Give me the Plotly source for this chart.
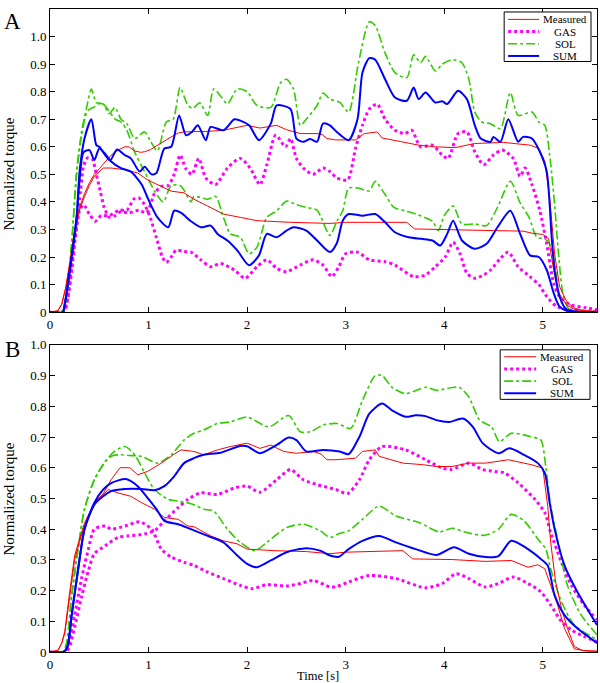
import plotly.graph_objects as go

# ---------------- Panel A data (time [s], normalized torque) ----------------
A_MEAS_HI_T = [0, 0.08, 0.12, 0.16, 0.2, 0.25, 0.3, 0.35, 0.4, 0.45, 0.5, 0.55, 0.62, 0.7, 0.76, 0.8, 0.86, 0.92, 0.96, 1.02, 1.09, 1.16, 1.23, 1.3, 1.36, 1.46, 1.6, 1.76, 1.9, 2.0, 2.13, 2.3, 2.4, 2.54, 2.71, 2.76, 2.81, 2.9, 3.1, 3.19, 3.32, 3.37, 3.57, 3.74, 3.91, 4.11, 4.31, 4.6, 4.87, 4.96, 5.02, 5.07, 5.12, 5.17, 5.24, 5.31, 5.4, 5.55]
A_MEAS_HI_V = [0, 0.005, 0.03, 0.09, 0.17, 0.29, 0.38, 0.43, 0.47, 0.5, 0.52, 0.54, 0.57, 0.59, 0.6, 0.6, 0.585, 0.58, 0.582, 0.59, 0.606, 0.62, 0.636, 0.65, 0.654, 0.655, 0.656, 0.66, 0.67, 0.678, 0.668, 0.678, 0.662, 0.648, 0.648, 0.645, 0.63, 0.625, 0.625, 0.648, 0.654, 0.632, 0.618, 0.606, 0.6, 0.597, 0.612, 0.616, 0.606, 0.594, 0.547, 0.415, 0.212, 0.093, 0.04, 0.016, 0.006, 0.003]
A_MEAS_LO_T = [0, 0.08, 0.12, 0.16, 0.2, 0.25, 0.3, 0.35, 0.4, 0.45, 0.54, 0.62, 0.76, 0.89, 0.99, 1.09, 1.23, 1.36, 1.46, 1.6, 1.76, 1.93, 2.1, 2.44, 2.84, 3.0, 3.3, 3.62, 3.7, 3.9, 4.2, 4.5, 4.8, 4.9, 5.0, 5.06, 5.11, 5.16, 5.24, 5.32, 5.45, 5.55]
A_MEAS_LO_V = [0, 0.005, 0.03, 0.09, 0.18, 0.3, 0.37, 0.42, 0.46, 0.493, 0.523, 0.523, 0.517, 0.505, 0.48, 0.463, 0.439, 0.433, 0.41, 0.385, 0.356, 0.344, 0.332, 0.326, 0.322, 0.326, 0.326, 0.326, 0.302, 0.3, 0.298, 0.296, 0.294, 0.286, 0.282, 0.266, 0.153, 0.07, 0.027, 0.01, 0.003, 0.002]

A_GAS_HI_T = [0, 0.12, 0.16, 0.19, 0.22, 0.25, 0.28, 0.31, 0.34, 0.38, 0.43, 0.47, 0.51, 0.55, 0.6, 0.66, 0.72, 0.8, 0.9, 0.98, 1.06, 1.13, 1.2, 1.26, 1.32, 1.38, 1.44, 1.51, 1.58, 1.68, 1.8, 1.93, 2.03, 2.13, 2.2, 2.29, 2.39, 2.44, 2.5, 2.57, 2.67, 2.77, 2.84, 2.91, 3.02, 3.1, 3.17, 3.24, 3.32, 3.4, 3.5, 3.6, 3.67, 3.76, 3.88, 3.98, 4.04, 4.14, 4.23, 4.31, 4.4, 4.5, 4.59, 4.7, 4.77, 4.82, 4.89, 4.97, 5.04, 5.11, 5.17, 5.28, 5.44, 5.55]
A_GAS_HI_V = [0, 0.0, 0.02, 0.08, 0.17, 0.26, 0.34, 0.44, 0.53, 0.56, 0.555, 0.5, 0.44, 0.38, 0.345, 0.35, 0.365, 0.36, 0.37, 0.36, 0.43, 0.457, 0.46, 0.5, 0.57, 0.52, 0.5, 0.558, 0.487, 0.463, 0.523, 0.558, 0.523, 0.463, 0.535, 0.642, 0.6, 0.63, 0.558, 0.523, 0.5, 0.523, 0.51, 0.487, 0.48, 0.594, 0.678, 0.737, 0.755, 0.7, 0.66, 0.648, 0.66, 0.6, 0.606, 0.57, 0.558, 0.648, 0.654, 0.582, 0.535, 0.57, 0.588, 0.558, 0.493, 0.523, 0.463, 0.368, 0.248, 0.105, 0.057, 0.027, 0.016, 0.01]
A_GAS_LO_T = [0, 0.14, 0.18, 0.22, 0.26, 0.3, 0.34, 0.4, 0.46, 0.52, 0.6, 0.7, 0.78, 0.85, 0.9, 0.96, 1.02, 1.08, 1.14, 1.18, 1.23, 1.28, 1.36, 1.43, 1.53, 1.63, 1.73, 1.87, 1.98, 2.1, 2.2, 2.3, 2.4, 2.54, 2.67, 2.77, 2.86, 2.93, 3.0, 3.12, 3.24, 3.4, 3.5, 3.69, 3.81, 3.91, 4.01, 4.09, 4.16, 4.23, 4.31, 4.4, 4.47, 4.57, 4.65, 4.75, 4.87, 4.96, 5.04, 5.14, 5.28, 5.55]
A_GAS_LO_V = [0, 0.0, 0.05, 0.15, 0.28, 0.37, 0.39, 0.355, 0.33, 0.35, 0.35, 0.37, 0.37, 0.41, 0.415, 0.39, 0.34, 0.27, 0.2, 0.18, 0.2, 0.225, 0.22, 0.218, 0.19, 0.165, 0.177, 0.153, 0.123, 0.165, 0.19, 0.159, 0.147, 0.171, 0.19, 0.171, 0.129, 0.165, 0.212, 0.218, 0.19, 0.183, 0.171, 0.129, 0.135, 0.165, 0.2, 0.254, 0.212, 0.141, 0.123, 0.135, 0.153, 0.195, 0.218, 0.165, 0.129, 0.1, 0.057, 0.021, 0.008, 0.003]

A_SOL_HI_T = [0, 0.12, 0.17, 0.22, 0.27, 0.32, 0.37, 0.42, 0.47, 0.54, 0.6, 0.66, 0.72, 0.78, 0.86, 0.96, 1.02, 1.09, 1.18, 1.25, 1.32, 1.4, 1.45, 1.52, 1.6, 1.66, 1.74, 1.8, 1.9, 2.0, 2.1, 2.24, 2.34, 2.4, 2.47, 2.54, 2.6, 2.71, 2.77, 2.84, 2.94, 3.03, 3.13, 3.24, 3.3, 3.4, 3.5, 3.62, 3.69, 3.76, 3.81, 3.91, 3.98, 4.08, 4.18, 4.25, 4.31, 4.38, 4.47, 4.57, 4.67, 4.75, 4.89, 4.96, 5.02, 5.07, 5.12, 5.16, 5.21, 5.28, 5.55]
A_SOL_HI_V = [0, 0.0, 0.06, 0.25, 0.51, 0.654, 0.74, 0.81, 0.76, 0.755, 0.72, 0.743, 0.7, 0.684, 0.63, 0.654, 0.62, 0.585, 0.69, 0.7, 0.815, 0.75, 0.74, 0.76, 0.714, 0.81, 0.78, 0.755, 0.81, 0.8, 0.75, 0.743, 0.833, 0.845, 0.81, 0.678, 0.7, 0.75, 0.795, 0.773, 0.761, 0.726, 0.905, 1.054, 1.04, 0.94, 0.869, 0.851, 0.934, 0.905, 0.928, 0.875, 0.9, 0.916, 0.905, 0.845, 0.726, 0.69, 0.684, 0.666, 0.797, 0.714, 0.726, 0.69, 0.678, 0.57, 0.39, 0.21, 0.057, 0.005, 0.0]
A_SOL_LO_T = [0, 0.12, 0.17, 0.22, 0.27, 0.32, 0.38, 0.45, 0.52, 0.6, 0.66, 0.72, 0.78, 0.86, 0.96, 1.06, 1.15, 1.23, 1.33, 1.43, 1.46, 1.6, 1.68, 1.76, 1.83, 1.93, 2.02, 2.1, 2.2, 2.3, 2.4, 2.5, 2.6, 2.71, 2.84, 2.91, 2.97, 3.03, 3.13, 3.24, 3.3, 3.4, 3.49, 3.6, 3.71, 3.88, 3.94, 4.0, 4.09, 4.18, 4.31, 4.43, 4.54, 4.67, 4.77, 4.86, 4.94, 5.02, 5.07, 5.12, 5.17, 5.24, 5.55]
A_SOL_LO_V = [0, 0.0, 0.06, 0.25, 0.5, 0.64, 0.73, 0.745, 0.76, 0.73, 0.7, 0.69, 0.66, 0.58, 0.51, 0.44, 0.4, 0.46, 0.457, 0.4, 0.42, 0.41, 0.42, 0.344, 0.284, 0.272, 0.212, 0.236, 0.344, 0.368, 0.403, 0.39, 0.38, 0.37, 0.278, 0.33, 0.368, 0.45, 0.45, 0.44, 0.475, 0.427, 0.38, 0.368, 0.356, 0.33, 0.296, 0.35, 0.385, 0.32, 0.32, 0.314, 0.38, 0.475, 0.397, 0.344, 0.272, 0.266, 0.248, 0.177, 0.057, 0.005, 0.0]

A_SUM_HI_T = [0, 0.13, 0.15, 0.22, 0.27, 0.3, 0.35, 0.42, 0.47, 0.5, 0.56, 0.61, 0.68, 0.76, 0.82, 0.91, 0.96, 1.03, 1.08, 1.16, 1.23, 1.31, 1.38, 1.44, 1.5, 1.58, 1.63, 1.76, 1.87, 1.93, 2.02, 2.12, 2.24, 2.3, 2.44, 2.5, 2.57, 2.64, 2.71, 2.77, 2.84, 2.91, 3.03, 3.12, 3.17, 3.24, 3.3, 3.4, 3.5, 3.62, 3.69, 3.74, 3.81, 3.91, 3.98, 4.03, 4.14, 4.23, 4.31, 4.37, 4.47, 4.5, 4.57, 4.65, 4.75, 4.8, 4.89, 4.97, 5.04, 5.09, 5.12, 5.17, 5.24, 5.35, 5.55]
A_SUM_HI_V = [0, 0, 0.03, 0.2, 0.344, 0.51, 0.63, 0.7, 0.606, 0.6, 0.57, 0.55, 0.59, 0.57, 0.558, 0.51, 0.528, 0.5, 0.505, 0.594, 0.6, 0.714, 0.642, 0.654, 0.678, 0.624, 0.672, 0.66, 0.7, 0.695, 0.678, 0.624, 0.684, 0.75, 0.737, 0.63, 0.618, 0.628, 0.618, 0.684, 0.678, 0.654, 0.624, 0.7, 0.869, 0.922, 0.916, 0.845, 0.779, 0.767, 0.815, 0.773, 0.797, 0.761, 0.765, 0.755, 0.803, 0.773, 0.678, 0.63, 0.618, 0.636, 0.618, 0.7, 0.618, 0.636, 0.63, 0.582, 0.51, 0.272, 0.153, 0.057, 0.01, 0.002, 0]
A_SUM_LO_T = [0, 0.13, 0.15, 0.22, 0.27, 0.3, 0.34, 0.4, 0.45, 0.5, 0.57, 0.62, 0.72, 0.82, 0.93, 0.99, 1.09, 1.2, 1.26, 1.33, 1.43, 1.53, 1.63, 1.7, 1.8, 1.9, 2.02, 2.12, 2.2, 2.3, 2.4, 2.47, 2.6, 2.71, 2.84, 2.91, 2.97, 3.03, 3.17, 3.3, 3.4, 3.5, 3.64, 3.77, 3.88, 3.96, 4.03, 4.09, 4.18, 4.31, 4.43, 4.54, 4.67, 4.77, 4.87, 4.96, 5.04, 5.11, 5.17, 5.25, 5.55]
A_SUM_LO_V = [0, 0, 0.03, 0.2, 0.344, 0.48, 0.58, 0.588, 0.552, 0.594, 0.57, 0.547, 0.523, 0.51, 0.463, 0.415, 0.344, 0.308, 0.368, 0.36, 0.33, 0.308, 0.314, 0.284, 0.26, 0.224, 0.17, 0.206, 0.284, 0.272, 0.296, 0.308, 0.296, 0.26, 0.218, 0.25, 0.332, 0.356, 0.35, 0.356, 0.326, 0.29, 0.272, 0.266, 0.26, 0.242, 0.284, 0.332, 0.26, 0.23, 0.248, 0.308, 0.368, 0.284, 0.206, 0.2, 0.153, 0.07, 0.02, 0.004, 0]

# ---------------- Panel B data ----------------
B_MEAS_HI_T = [0, 0.08, 0.12, 0.15, 0.2, 0.25, 0.3, 0.35, 0.45, 0.54, 0.62, 0.71, 0.81, 0.89, 0.99, 1.13, 1.25, 1.33, 1.46, 1.56, 1.7, 1.83, 2.0, 2.13, 2.24, 2.37, 2.5, 2.67, 2.75, 2.81, 2.9, 3.1, 3.17, 3.3, 3.34, 3.58, 3.78, 3.92, 4.08, 4.25, 4.42, 4.65, 4.88, 5.0, 5.05, 5.08, 5.13, 5.19, 5.25, 5.32, 5.4, 5.55]
B_MEAS_HI_V = [0, 0.005, 0.03, 0.067, 0.196, 0.314, 0.368, 0.42, 0.486, 0.515, 0.561, 0.6, 0.6, 0.577, 0.588, 0.615, 0.642, 0.658, 0.653, 0.642, 0.658, 0.669, 0.68, 0.663, 0.674, 0.653, 0.647, 0.653, 0.645, 0.626, 0.626, 0.631, 0.653, 0.658, 0.637, 0.615, 0.61, 0.604, 0.604, 0.615, 0.615, 0.626, 0.61, 0.599, 0.475, 0.357, 0.228, 0.142, 0.077, 0.018, 0.005, 0.003]
B_MEAS_LO_T = [0, 0.08, 0.12, 0.15, 0.2, 0.25, 0.3, 0.35, 0.45, 0.54, 0.59, 0.69, 0.82, 0.93, 1.06, 1.16, 1.3, 1.4, 1.46, 1.63, 1.76, 1.9, 2.0, 2.27, 2.6, 2.84, 3.0, 3.58, 3.68, 4.08, 4.42, 4.68, 4.85, 4.95, 5.02, 5.08, 5.15, 5.22, 5.32, 5.45, 5.55]
B_MEAS_LO_V = [0, 0.005, 0.03, 0.06, 0.18, 0.3, 0.36, 0.41, 0.48, 0.51, 0.529, 0.518, 0.507, 0.486, 0.465, 0.438, 0.432, 0.41, 0.408, 0.378, 0.362, 0.352, 0.335, 0.33, 0.327, 0.32, 0.325, 0.33, 0.303, 0.301, 0.295, 0.298, 0.276, 0.284, 0.271, 0.217, 0.153, 0.077, 0.01, 0.003, 0.002]

B_GAS_HI_T = [0, 0.16, 0.2, 0.25, 0.32, 0.39, 0.45, 0.56, 0.69, 0.79, 0.96, 1.06, 1.16, 1.3, 1.4, 1.53, 1.7, 1.87, 2.0, 2.13, 2.3, 2.44, 2.57, 2.71, 2.84, 2.9, 3.02, 3.14, 3.24, 3.37, 3.61, 3.81, 3.98, 4.07, 4.25, 4.39, 4.51, 4.61, 4.75, 4.92, 5.02, 5.08, 5.19, 5.29, 5.42, 5.55]
B_GAS_HI_V = [0, 0, 0.02, 0.08, 0.18, 0.265, 0.32, 0.346, 0.373, 0.378, 0.384, 0.395, 0.427, 0.47, 0.497, 0.518, 0.513, 0.534, 0.54, 0.52, 0.561, 0.594, 0.561, 0.545, 0.534, 0.529, 0.516, 0.561, 0.626, 0.669, 0.658, 0.626, 0.599, 0.594, 0.615, 0.594, 0.588, 0.583, 0.551, 0.497, 0.454, 0.389, 0.292, 0.217, 0.153, 0.104]
B_GAS_LO_T = [0, 0.15, 0.19, 0.25, 0.32, 0.39, 0.45, 0.56, 0.62, 0.76, 0.91, 1.03, 1.13, 1.23, 1.36, 1.46, 1.6, 1.76, 1.93, 2.05, 2.2, 2.4, 2.54, 2.67, 2.84, 2.9, 3.03, 3.24, 3.51, 3.81, 3.98, 4.12, 4.25, 4.41, 4.55, 4.7, 4.85, 4.98, 5.08, 5.19, 5.29, 5.42, 5.55]
B_GAS_LO_V = [0, 0, 0.03, 0.12, 0.239, 0.335, 0.4, 0.41, 0.4, 0.41, 0.424, 0.4, 0.335, 0.309, 0.292, 0.282, 0.26, 0.239, 0.217, 0.206, 0.219, 0.215, 0.223, 0.233, 0.212, 0.212, 0.228, 0.249, 0.239, 0.209, 0.223, 0.255, 0.239, 0.212, 0.223, 0.244, 0.223, 0.196, 0.153, 0.099, 0.072, 0.05, 0.034]

B_SOL_HI_T = [0, 0.13, 0.17, 0.22, 0.29, 0.35, 0.45, 0.56, 0.64, 0.72, 0.8, 0.93, 1.09, 1.23, 1.36, 1.46, 1.56, 1.7, 1.83, 2.0, 2.22, 2.42, 2.54, 2.64, 2.77, 2.91, 3.05, 3.17, 3.3, 3.37, 3.47, 3.61, 3.81, 3.92, 4.15, 4.25, 4.36, 4.48, 4.56, 4.68, 4.88, 4.98, 5.03, 5.08, 5.15, 5.25, 5.39, 5.55]
B_SOL_HI_V = [0, 0, 0.03, 0.185, 0.346, 0.465, 0.561, 0.62, 0.64, 0.642, 0.64, 0.637, 0.615, 0.642, 0.69, 0.712, 0.723, 0.744, 0.749, 0.765, 0.733, 0.77, 0.717, 0.717, 0.739, 0.744, 0.728, 0.819, 0.9, 0.9, 0.862, 0.841, 0.862, 0.852, 0.862, 0.83, 0.755, 0.733, 0.685, 0.712, 0.701, 0.69, 0.604, 0.475, 0.368, 0.217, 0.12, 0.056]
B_SOL_LO_T = [0, 0.13, 0.17, 0.22, 0.29, 0.35, 0.45, 0.56, 0.66, 0.76, 0.86, 0.96, 1.06, 1.2, 1.3, 1.43, 1.56, 1.66, 1.8, 1.93, 2.08, 2.2, 2.4, 2.57, 2.74, 2.84, 2.93, 3.03, 3.17, 3.34, 3.51, 3.75, 3.95, 4.08, 4.25, 4.41, 4.55, 4.68, 4.81, 4.95, 5.03, 5.08, 5.19, 5.32, 5.55]
B_SOL_LO_V = [0, 0, 0.03, 0.185, 0.346, 0.465, 0.561, 0.62, 0.655, 0.669, 0.642, 0.583, 0.529, 0.497, 0.491, 0.483, 0.465, 0.459, 0.4, 0.357, 0.33, 0.357, 0.405, 0.416, 0.395, 0.373, 0.385, 0.395, 0.432, 0.475, 0.443, 0.421, 0.391, 0.403, 0.387, 0.38, 0.4, 0.448, 0.427, 0.368, 0.335, 0.271, 0.163, 0.088, 0.04]

B_SUM_HI_T = [0, 0.14, 0.18, 0.22, 0.29, 0.35, 0.45, 0.54, 0.62, 0.76, 0.93, 1.06, 1.16, 1.26, 1.36, 1.46, 1.56, 1.73, 1.93, 2.0, 2.13, 2.3, 2.42, 2.5, 2.6, 2.77, 2.94, 3.03, 3.14, 3.24, 3.37, 3.47, 3.61, 3.71, 3.81, 3.92, 4.05, 4.19, 4.29, 4.39, 4.55, 4.66, 4.81, 4.95, 5.02, 5.07, 5.12, 5.22, 5.35, 5.55]
B_SUM_HI_V = [0, 0, 0.02, 0.12, 0.28, 0.4, 0.48, 0.507, 0.524, 0.531, 0.531, 0.527, 0.54, 0.572, 0.615, 0.631, 0.642, 0.649, 0.671, 0.67, 0.647, 0.674, 0.698, 0.69, 0.653, 0.658, 0.653, 0.644, 0.701, 0.776, 0.809, 0.787, 0.766, 0.771, 0.768, 0.755, 0.749, 0.76, 0.733, 0.68, 0.647, 0.663, 0.642, 0.615, 0.583, 0.486, 0.4, 0.282, 0.196, 0.088]
B_SUM_LO_T = [0, 0.14, 0.18, 0.22, 0.29, 0.35, 0.45, 0.54, 0.62, 0.77, 0.89, 0.99, 1.08, 1.16, 1.3, 1.43, 1.6, 1.76, 1.9, 2.0, 2.1, 2.24, 2.4, 2.6, 2.74, 2.84, 2.93, 3.03, 3.17, 3.34, 3.51, 3.71, 3.92, 4.1, 4.25, 4.42, 4.55, 4.68, 4.85, 4.98, 5.05, 5.12, 5.22, 5.35, 5.55]
B_SUM_LO_V = [0, 0, 0.02, 0.12, 0.28, 0.4, 0.486, 0.529, 0.55, 0.563, 0.54, 0.502, 0.465, 0.427, 0.416, 0.4, 0.378, 0.357, 0.314, 0.287, 0.276, 0.298, 0.325, 0.338, 0.33, 0.314, 0.31, 0.335, 0.362, 0.378, 0.357, 0.335, 0.316, 0.341, 0.32, 0.309, 0.312, 0.362, 0.335, 0.303, 0.282, 0.185, 0.12, 0.077, 0.029]

# ---------------- axes / labels ----------------
X_TICKS = [0, 1, 2, 3, 4, 5]
A_Y_TICKS = [0, 0.1, 0.2, 0.3, 0.4, 0.5, 0.6, 0.7, 0.8, 0.9, 1.0]
A_Y_TEXT = ["0", "0.1", "0.2", "0.3", "0.4", "0.5", "0.6", "0.7", "0.8", "0.9", "1.0"]
B_Y_TICKS = A_Y_TICKS
B_Y_TEXT = A_Y_TEXT
LEGEND_NAMES = ["Measured", "GAS", "SOL", "SUM"]

FONT = "Liberation Serif, Times New Roman, serif"

STYLES = {
    "Measured": dict(color="#ff0000", width=1, dash="solid", shape="linear"),
    "GAS": dict(color="#ff00ff", width=3, dash="dot", shape="spline"),
    "SOL": dict(color="#33cc00", width=1.6, dash="dashdot", shape="spline"),
    "SUM": dict(color="#0000ff", width=2, dash="solid", shape="spline"),
}

fig = go.Figure()

def add(t, v, kind, xa, ya):
    s = STYLES[kind]
    line = dict(color=s["color"], width=s["width"], dash=s["dash"], shape=s["shape"])
    if s["shape"] == "spline":
        line["smoothing"] = 0.7
    fig.add_trace(go.Scatter(x=t, y=v, mode="lines", line=line, name=kind,
                             showlegend=False, xaxis=xa, yaxis=ya, hoverinfo="skip"))

panelA = [(A_GAS_HI_T, A_GAS_HI_V, "GAS"), (A_GAS_LO_T, A_GAS_LO_V, "GAS"),
          (A_SOL_HI_T, A_SOL_HI_V, "SOL"), (A_SOL_LO_T, A_SOL_LO_V, "SOL"),
          (A_MEAS_HI_T, A_MEAS_HI_V, "Measured"), (A_MEAS_LO_T, A_MEAS_LO_V, "Measured"),
          (A_SUM_HI_T, A_SUM_HI_V, "SUM"), (A_SUM_LO_T, A_SUM_LO_V, "SUM")]
panelB = [(B_GAS_HI_T, B_GAS_HI_V, "GAS"), (B_GAS_LO_T, B_GAS_LO_V, "GAS"),
          (B_SOL_HI_T, B_SOL_HI_V, "SOL"), (B_SOL_LO_T, B_SOL_LO_V, "SOL"),
          (B_MEAS_HI_T, B_MEAS_HI_V, "Measured"), (B_MEAS_LO_T, B_MEAS_LO_V, "Measured"),
          (B_SUM_HI_T, B_SUM_HI_V, "SUM"), (B_SUM_LO_T, B_SUM_LO_V, "SUM")]
for t, v, k in panelA:
    add(t, v, k, "x", "y")
for t, v, k in panelB:
    add(t, v, k, "x2", "y2")

# layout geometry (pixels -> paper)
W, H = 600, 683
ML, MR, MT, MB = 50, 2, 3, 31
PW, PH = W - ML - MR, H - MT - MB
def px(xp):
    return (xp - ML) / PW
def py(yp):
    return (H - MB - yp) / PH

axis_common = dict(showline=True, linecolor="black", linewidth=1, mirror="ticks",
                   ticks="inside", ticklen=5, tickcolor="black", tickwidth=1,
                   showgrid=False, zeroline=False,
                   tickfont=dict(family=FONT, size=13, color="black"))

fig.update_layout(
    width=W, height=H, margin=dict(l=ML, r=MR, t=MT, b=MB),
    paper_bgcolor="white", plot_bgcolor="white", showlegend=False,
    xaxis=dict(domain=[0, 1], range=[0, 5.55], anchor="y", tickvals=X_TICKS, **axis_common),
    yaxis=dict(domain=[py(309), 1], range=[0, 1.1], anchor="x", tickvals=A_Y_TICKS,
               ticktext=A_Y_TEXT, **axis_common),
    xaxis2=dict(domain=[0, 1], range=[0, 5.55], anchor="y2", tickvals=X_TICKS, **axis_common),
    yaxis2=dict(domain=[0, py(342)], range=[0, 1.0], anchor="x2", tickvals=B_Y_TICKS,
                ticktext=B_Y_TEXT, **axis_common),
)

ann = []
shapes = []
def text(s, xp, yp, size, angle=0):
    ann.append(dict(text=s, x=px(xp), y=py(yp), xref="paper", yref="paper",
                    showarrow=False, xanchor="center", yanchor="middle", borderpad=0,
                    textangle=angle, font=dict(family=FONT, size=size, color="black")))

text("A", 12, 16, 23)
text("B", 12, 347, 23)
text("Normalized torque", 9, 170, 15, -90)
text("Normalized torque", 9, 498, 15, -90)
text("Time [s]", 318, 676, 12.5)

# manual legends (one per panel)
def legend(box, rows, lx0, lx1, tx):
    x0, x1, y0, y1 = box
    shapes.append(dict(type="rect", xref="paper", yref="paper", x0=px(x0), x1=px(x1),
                       y0=py(y1), y1=py(y0), line=dict(color="black", width=1),
                       fillcolor="white", layer="above"))
    for name, yr in zip(LEGEND_NAMES, rows):
        s = STYLES[name]
        shapes.append(dict(type="line", xref="paper", yref="paper", x0=px(lx0), x1=px(lx1),
                           y0=py(yr), y1=py(yr), layer="above",
                           line=dict(color=s["color"], width=s["width"], dash=s["dash"])))
        text(name, tx, yr, 11)

legend((505, 592, 6, 56), (13.5, 25.8, 38.1, 50.4), 509, 540, 566)
legend((501, 591, 347, 397), (354, 366.3, 378.6, 390.9), 505, 537, 563)

fig.update_layout(annotations=ann, shapes=shapes)
fig.write_html("out.html", config={"displayModeBar": False},
               post_script="document.body.style.margin='0';document.body.style.padding='0';"
                           "document.body.style.overflow='hidden';")
